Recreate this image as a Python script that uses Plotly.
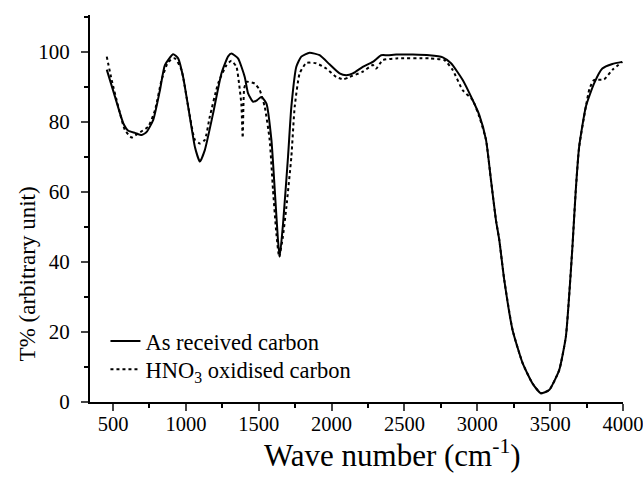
import plotly.graph_objects as go

# As received carbon
wn_raw = [457, 514, 571, 605, 651, 697, 731, 776, 822, 856, 913, 947, 981, 1027, 1062, 1096, 1130,
          1187, 1244, 1290, 1313, 1358, 1404, 1427, 1461, 1490, 1518, 1553, 1587, 1610, 1632, 1644,
          1667, 1701, 1724, 1758, 1792, 1849, 1918, 1986, 2055, 2101, 2146, 2214, 2283, 2340, 2386,
          2443, 2557, 2671, 2763, 2820, 2900, 2968, 3014, 3060, 3094, 3128, 3151, 3185, 3242, 3311,
          3379, 3436, 3493, 3562, 3608, 3630, 3653, 3676, 3699, 3745, 3801, 3858, 3927, 3995]
t_raw = [95.0, 87.2, 79.6, 77.5, 76.9, 76.3, 77.2, 80.6, 89.1, 96.3, 99.4, 98.2, 92.9, 81.5, 72.9, 68.7, 72.0,
         82.5, 93.9, 98.8, 99.6, 98.2, 92.9, 88.2, 85.8, 86.3, 87.2, 85.3, 74.9, 60.6, 46.3, 41.5,
         51.0, 70.1, 84.4, 95.8, 98.7, 99.8, 99.1, 96.5, 93.9, 93.4, 93.9, 95.8, 97.2, 99.1, 99.1,
         99.3, 99.3, 99.1, 98.5, 96.8, 92.0, 86.3, 82.0, 74.9, 63.4, 52.0, 46.3, 34.9, 20.6, 11.1,
         5.3, 2.5, 3.4, 9.1, 18.7, 30.1, 44.4, 60.6, 72.9, 84.4, 91.0, 95.3, 96.6, 97.2]

# HNO3 oxidised carbon
wn_ox = [457, 491, 536, 582, 628, 673, 742, 788, 833, 879, 925, 970, 1016, 1062, 1096, 1130, 1164,
         1221, 1279, 1313, 1347, 1365, 1381, 1390, 1400, 1416, 1473, 1507, 1541, 1575, 1598, 1621,
         1640, 1665, 1690, 1724, 1747, 1781, 1827, 1895, 1964, 2032, 2080, 2123, 2214, 2283, 2306,
         2351, 2443, 2671, 2774, 2831, 2900, 2968, 3014, 3060, 3094, 3128, 3151, 3185, 3242, 3311,
         3379, 3436, 3493, 3562, 3608, 3630, 3653, 3676, 3699, 3745, 3770, 3801, 3870, 3927, 3995]
t_ox = [98.7, 92.0, 84.4, 77.7, 75.6, 76.8, 78.7, 83.4, 92.0, 97.2, 98.2, 94.9, 84.4, 74.9, 73.9, 74.9, 81.5,
        91.0, 96.3, 97.5, 95.8, 91.0, 85.0, 75.5, 89.5, 91.5, 91.0, 89.1, 84.4, 74.9, 60.6, 48.2,
        41.5, 47.0, 55.8, 70.1, 84.4, 93.9, 96.9, 96.8, 95.3, 92.9, 92.2, 92.9, 94.4, 96.3, 95.3,
        97.7, 98.2, 98.2, 97.7, 94.9, 89.1, 86.3, 81.5, 74.9, 63.4, 52.0, 46.3, 34.9, 20.6, 11.1,
        5.3, 2.5, 3.4, 9.1, 18.7, 30.1, 44.4, 60.6, 72.9, 84.4, 89.5, 92.0, 92.2, 94.9, 97.2]

x_ticks = [500, 1000, 1500, 2000, 2500, 3000, 3500, 4000]
y_ticks = [0, 20, 40, 60, 80, 100]

x_title = "Wave number (cm<sup>-1</sup>)"
y_title = "T% (arbitrary unit)"

FONT = "Liberation Serif, Times New Roman, serif"

fig = go.Figure()
fig.add_trace(go.Scatter(x=wn_raw, y=t_raw, mode="lines", name="As received carbon", legend="legend",
                         line=dict(color="black", width=2, shape="spline", smoothing=0.5)))
fig.add_trace(go.Scatter(x=wn_ox, y=t_ox, mode="lines", name="HNO<sub>3</sub> oxidised carbon",
                         legend="legend2",
                         line=dict(color="black", width=2, dash="dot", shape="spline", smoothing=0.5)))

leg_common = dict(xanchor="left", yanchor="top", bgcolor="rgba(0,0,0,0)", borderwidth=0,
                  font=dict(family=FONT, size=22.5, color="black"))

fig.update_layout(
    width=643, height=481,
    margin=dict(l=90, r=20, t=15, b=79, autoexpand=False),
    paper_bgcolor="white", plot_bgcolor="white",
    font=dict(family=FONT, color="black", size=21),
    showlegend=True,
    legend=dict(x=0.029, y=0.212, **leg_common),
    legend2=dict(x=0.029, y=0.139, **leg_common),
    xaxis=dict(range=[342, 4000], tickvals=x_ticks, ticks="outside", ticklen=7, tickwidth=2,
               showline=True, linecolor="black", linewidth=2, showgrid=False, zeroline=False,
               automargin=False, ticklabeloverflow="allow", ticklabelstandoff=-5,
               tickfont=dict(family=FONT, size=20.5),
               minor=dict(dtick=250, tick0=0, ticks="outside", ticklen=4, tickwidth=1.5, tickcolor="black")),
    yaxis=dict(range=[0, 110.6], tickvals=y_ticks, ticks="outside", ticklen=7, tickwidth=2,
               showline=True, linecolor="black", linewidth=2, showgrid=False, zeroline=False,
               automargin=False, tickfont=dict(family=FONT, size=21), ticklabelstandoff=7,
               minor=dict(dtick=10, tick0=0, ticks="outside", ticklen=4, tickwidth=1.5, tickcolor="black")),
    annotations=[
        dict(text=x_title, xref="paper", yref="paper", x=0.567, y=-0.134,
             xanchor="center", yanchor="middle", showarrow=False,
             font=dict(family=FONT, size=31, color="black")),
        dict(text=y_title, xref="paper", yref="paper", x=-0.118, y=0.33, textangle=-90,
             xanchor="center", yanchor="middle", showarrow=False,
             font=dict(family=FONT, size=23, color="black")),
    ],
)

# remove the default page margin so the figure fills the window exactly
fig.write_html("out.html", config={"displayModeBar": False},
               post_script="document.body.style.margin='0';document.body.style.overflow='hidden';")
